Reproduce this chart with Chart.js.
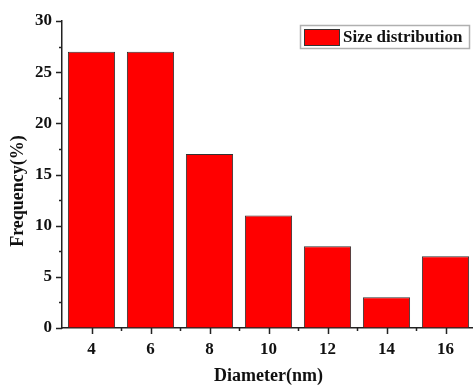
<!DOCTYPE html>
<html><head><meta charset="utf-8">
<script src="https://cdn.jsdelivr.net/npm/chart.js@4.4.0/dist/chart.umd.min.js"></script>
<style>html,body{margin:0;padding:0;background:#fff;overflow:hidden;width:473px;height:385px}</style>
</head><body>
<canvas id="c" width="478" height="385" style="display:block"></canvas>
<script>
const diameters = [4, 6, 8, 10, 12, 14, 16];
const frequencies = [27, 27, 17, 11, 8, 3, 7];
const seriesName = 'Size distribution';
const xTitle = 'Diameter(nm)';
const yTitle = 'Frequency(%)';
const xRange = [3, 17];
const yRange = [0, 30];

const FONT = "'Liberation Serif','Times New Roman',serif";

const extras = {
  id: 'extras',
  afterDraw(chart) {
    const {ctx, scales: {x, y}, chartArea: a} = chart;
    ctx.save();
    ctx.strokeStyle = '#222';
    ctx.lineWidth = 1.5;
    ctx.beginPath();
    for (let v = xRange[0] + 1; v <= xRange[1] - 1; v += 1) {
      const px = Math.round(x.getPixelForValue(v)) + 0.5;
      const len = v % 2 === 0 ? 6 : 3;
      ctx.moveTo(px, a.bottom); ctx.lineTo(px, a.bottom + len);
    }
    for (let v = yRange[0]; v <= yRange[1]; v += 2.5) {
      const py = Math.round(y.getPixelForValue(v)) + 0.5;
      const len = v % 5 === 0 ? 6 : 3;
      ctx.moveTo(a.left, py); ctx.lineTo(a.left - len, py);
    }
    ctx.stroke();

    // y-axis title
    ctx.save();
    ctx.translate(18, 191);
    ctx.rotate(-Math.PI / 2);
    ctx.fillStyle = '#111';
    ctx.font = "bold 18px " + FONT;
    ctx.textAlign = 'center';
    ctx.textBaseline = 'middle';
    ctx.fillText(yTitle, 0, 0);
    ctx.restore();

    // legend
    const ds = chart.data.datasets[0];
    const boxL = 300.5, boxT = 25.5, boxW = 169, boxH = 23;
    ctx.strokeStyle = '#b0b0b0';
    ctx.lineWidth = 1.5;
    ctx.strokeRect(boxL, boxT, boxW, boxH);
    ctx.fillStyle = ds.backgroundColor;
    ctx.fillRect(304, 29, 35, 16);
    ctx.strokeStyle = '#333';
    ctx.lineWidth = 1;
    ctx.strokeRect(304.5, 29.5, 35, 16);
    ctx.fillStyle = '#111';
    ctx.font = "bold 17px " + FONT;
    ctx.textAlign = 'left';
    ctx.textBaseline = 'middle';
    ctx.fillText(ds.label, 343, 37.5);
    ctx.restore();
  }
};

new Chart(document.getElementById('c'), {
  type: 'bar',
  data: {
    datasets: [{
      label: seriesName,
      data: diameters.map((d, i) => ({x: d, y: frequencies[i]})),
      backgroundColor: '#ff0000',
      borderColor: '#333',
      borderWidth: 1,
      barPercentage: 0.8,
      categoryPercentage: 1.0
    }]
  },
  options: {
    responsive: false,
    animation: false,
    layout: {padding: {top: 21, right: 3, left: 0, bottom: 0}},
    plugins: {
      tooltip: {enabled: false},
      legend: {display: false}
    },
    scales: {
      x: {
        type: 'linear',
        min: xRange[0], max: xRange[1],
        offset: false,
        afterFit(s) { s.height = 57; },
        grid: {display: true, drawOnChartArea: false, drawTicks: false},
        border: {display: true, color: '#222', width: 1.5},
        ticks: {
          padding: 11,
          color: '#111',
          font: {family: FONT, size: 17, weight: 'bold'},
          callback: (v) => String(v)
        },
        afterBuildTicks(s) { s.ticks = diameters.map(d => ({value: d})); },
        title: {display: true, text: xTitle, color: '#111', padding: {top: 0, bottom: 0},
                font: {family: FONT, size: 18, weight: 'bold', lineHeight: 1.0}}
      },
      y: {
        min: yRange[0], max: yRange[1],
        afterFit(s) { s.width = 62; },
        grid: {display: true, drawOnChartArea: false, drawTicks: false},
        border: {display: true, color: '#222', width: 1.5},
        ticks: {
          stepSize: 5, padding: 10, color: '#111',
          font: {family: FONT, size: 17, weight: 'bold'}
        },
        title: {display: false}
      }
    }
  },
  plugins: [extras]
});
</script>
</body></html>
